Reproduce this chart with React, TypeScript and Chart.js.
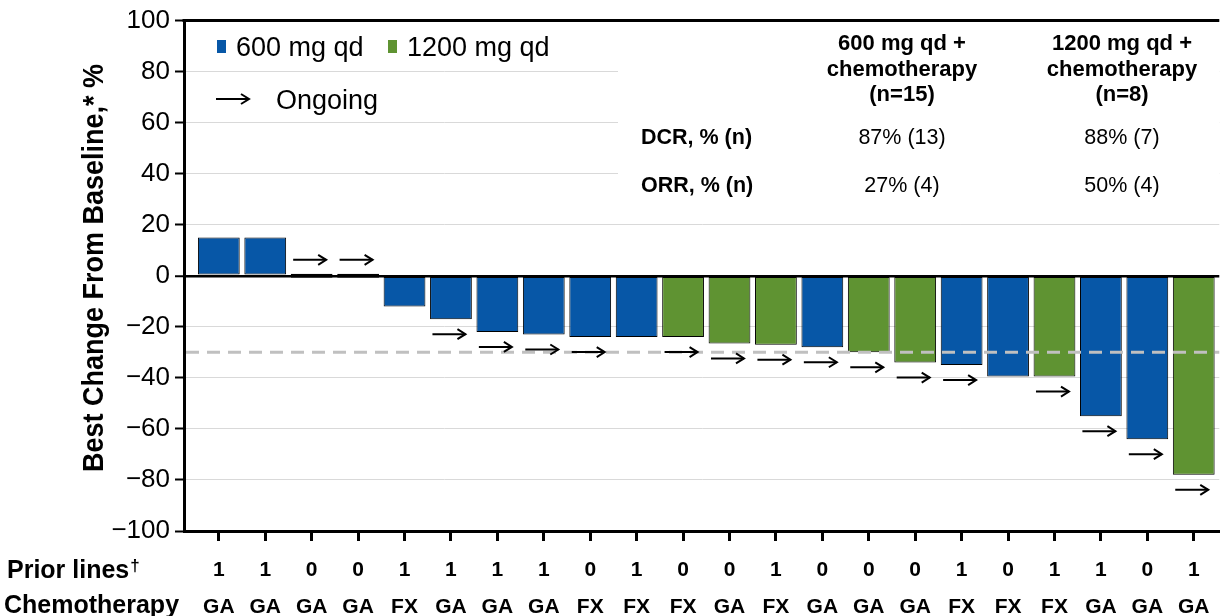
import React, { useEffect, useRef } from "react";
import { Chart, registerables } from "chart.js";

Chart.register(...registerables);

const values = [15, 15, 0, 0, -12, -17, -22, -23, -24, -24, -24, -26.5, -27, -28, -30, -34, -35, -39.5, -39.5, -55, -64, -78];
const doses = ["600", "600", "600", "600", "600", "600", "600", "600", "600", "600", "1200", "1200", "1200", "600", "1200", "1200", "600", "600", "1200", "600", "600", "1200"];
const ongoing = [0, 0, 1, 1, 0, 1, 1, 1, 1, 0, 1, 1, 1, 1, 1, 1, 1, 0, 1, 1, 1, 1];
const priorLines = ["1", "1", "0", "0", "1", "1", "1", "1", "0", "1", "0", "0", "1", "0", "0", "0", "1", "0", "1", "1", "0", "1"];
const chemo = ["GA", "GA", "GA", "GA", "FX", "GA", "GA", "GA", "FX", "FX", "FX", "GA", "FX", "GA", "GA", "GA", "FX", "FX", "FX", "GA", "GA", "GA"];
const yTicks = [100, 80, 60, 40, 20, 0, -20, -40, -60, -80, -100];
const threshold = -30;
const legendLabels = ["600 mg qd", "1200 mg qd"];
const ongoingLabel = "Ongoing";
const tableHeaders = [
  ["600 mg qd +", "chemotherapy", "(n=15)"],
  ["1200 mg qd +", "chemotherapy", "(n=8)"],
];
const tableRowLabels = ["DCR, % (n)", "ORR, % (n)"];
const tableValues = [
  ["87% (13)", "27% (4)"],
  ["88% (7)", "50% (4)"],
];
const yTitle = "Best Change From Baseline,* %";

const BLUE = "#0757A7";
const GREEN = "#5F9332";
const FONT = "'Liberation Sans', Arial, sans-serif";
const doseColor = (d: string) => (d === "600" ? BLUE : GREEN);

function drawArrow(ctx: CanvasRenderingContext2D, x1: number, x2: number, y: number) {
  ctx.save();
  ctx.strokeStyle = "#000";
  ctx.lineWidth = 2;
  ctx.lineCap = "butt";
  ctx.beginPath();
  ctx.moveTo(x1, y);
  ctx.lineTo(x2, y);
  ctx.stroke();
  ctx.beginPath();
  ctx.moveTo(x2 - 8, y - 5);
  ctx.lineTo(x2, y);
  ctx.lineTo(x2 - 8, y + 5);
  ctx.stroke();
  ctx.restore();
}

const overlayPlugin = {
  id: "overlay",
  beforeDatasetsDraw(chart: any) {
    const ctx = chart.ctx as CanvasRenderingContext2D;
    const { chartArea } = chart;
    const y = chart.scales.y;
    ctx.save();
    ctx.fillStyle = "#fff";
    const bottom = y.getPixelForValue(30);
    ctx.fillRect(618, chartArea.top + 1, chartArea.right - 618, bottom - chartArea.top);
    ctx.restore();
  },
  afterDatasetsDraw(chart: any) {
    const ctx = chart.ctx as CanvasRenderingContext2D;
    const { chartArea } = chart;
    const y = chart.scales.y;
    const ty = y.getPixelForValue(threshold);
    ctx.save();
    ctx.strokeStyle = "#c0c0c0";
    ctx.lineWidth = 3;
    ctx.setLineDash([13, 8]);
    ctx.beginPath();
    ctx.moveTo(chartArea.left + 2, ty);
    ctx.lineTo(chartArea.right, ty);
    ctx.stroke();
    ctx.restore();
    const meta = chart.getDatasetMeta(0);
    meta.data.forEach((el: any, i: number) => {
      if (!ongoing[i]) return;
      const top = Math.min(el.y, el.base);
      const bot = Math.max(el.y, el.base);
      const ay = values[i] >= 0 ? top - 14 : bot + 15;
      const cx = el.x - 2;
      drawArrow(ctx, cx - 16.5, cx + 16.5, ay);
    });
  },
  afterDraw(chart: any) {
    const ctx = chart.ctx as CanvasRenderingContext2D;
    const { chartArea } = chart;
    ctx.save();
    ctx.strokeStyle = "#000";
    ctx.lineWidth = 3;
    ctx.beginPath();
    ctx.moveTo(chartArea.left - 1.5, chartArea.top);
    ctx.lineTo(chartArea.right, chartArea.top);
    ctx.stroke();

    ctx.fillStyle = "#000";
    ctx.textBaseline = "alphabetic";
    // legend
    ctx.font = `27px ${FONT}`;
    ctx.textAlign = "left";
    ctx.fillStyle = BLUE;
    ctx.fillRect(217, 40, 9, 13);
    ctx.fillStyle = "#000";
    ctx.fillText(legendLabels[0], 236, 56);
    ctx.fillStyle = GREEN;
    ctx.fillRect(388, 40, 9, 13);
    ctx.fillStyle = "#000";
    ctx.fillText(legendLabels[1], 407, 56);
    drawArrow(ctx, 216, 249, 99);
    ctx.fillText(ongoingLabel, 276, 109);

    // table
    const colX = [902, 1122];
    const headBase = [50, 75.5, 101];
    ctx.textAlign = "center";
    ctx.font = `bold 22px ${FONT}`;
    tableHeaders.forEach((lines, c) => {
      lines.forEach((t, l) => ctx.fillText(t, colX[c], headBase[l]));
    });
    const rowBase = [144, 192];
    ctx.textAlign = "left";
    ctx.font = `bold 21.5px ${FONT}`;
    tableRowLabels.forEach((t, r) => ctx.fillText(t, 641, rowBase[r]));
    ctx.textAlign = "center";
    ctx.font = `21.5px ${FONT}`;
    tableValues.forEach((col, c) => {
      col.forEach((t, r) => ctx.fillText(t, colX[c], rowBase[r]));
    });

    // y title (slightly condensed, taller glyphs)
    ctx.save();
    ctx.font = `bold 30px ${FONT}`;
    ctx.textAlign = "center";
    ctx.translate(103, 268);
    ctx.rotate(-Math.PI / 2);
    ctx.scale(0.9, 1);
    ctx.fillText(yTitle, 0, 0);
    ctx.restore();

    // bottom row labels
    ctx.textAlign = "left";
    ctx.font = `bold 25px ${FONT}`;
    ctx.fillText("Prior lines", 7, 578);
    const w = ctx.measureText("Prior lines").width;
    ctx.font = `bold 17px ${FONT}`;
    ctx.fillText("\u2020", 7 + w + 1, 571);
    ctx.font = `bold 25px ${FONT}`;
    ctx.fillText("Chemotherapy", 4, 613);
    ctx.restore();
  },
};

export default function App() {
  const ref = useRef<HTMLCanvasElement | null>(null);
  useEffect(() => {
    document.body.style.margin = "0";
    const canvas = ref.current!;
    const chart = new Chart(canvas, {
      type: "bar",
      data: {
        datasets: [
          {
            data: values.map((v, i) => ({ x: i, y: v })),
            backgroundColor: doses.map(doseColor),
            borderColor: "#000",
            borderWidth: values.map((v) => (v === 0 ? 2 : 1)),
            borderSkipped: false,
            barPercentage: 0.9,
            categoryPercentage: 1,
            minBarLength: 4,
          },
        ],
      },
      options: {
        animation: false,
        responsive: false,
        devicePixelRatio: 1,
        layout: { padding: { top: 19, right: 0, left: 0, bottom: 0 } },
        plugins: { legend: { display: false }, tooltip: { enabled: false } },
        scales: {
          x: {
            type: "linear",
            offset: false,
            min: -0.75,
            max: 21.55,
            afterBuildTicks: (scale: any) => {
              scale.ticks = values.map((_, i) => ({ value: i }));
            },
            afterFit: (scale: any) => {
              scale.height = 85;
            },
            ticks: {
              autoSkip: false,
              maxRotation: 0,
              minRotation: 0,
              padding: 10.5,
              color: "#000",
              font: { family: FONT, size: 21, weight: "bold", lineHeight: 1.76 },
              callback: (v: any) => [priorLines[v], chemo[v]],
            },
            grid: {
              offset: false,
              drawOnChartArea: false,
              drawTicks: true,
              tickLength: 10,
              tickColor: "#000",
              tickWidth: 3,
            },
            border: { display: true, color: "#000", width: 3 },
          },
          y: {
            min: -100,
            max: 100,
            afterBuildTicks: (scale: any) => {
              scale.ticks = yTicks.map((v) => ({ value: v }));
            },
            afterFit: (scale: any) => {
              scale.width = 184;
            },
            ticks: {
              padding: 5,
              color: "#000",
              font: { family: FONT, size: 26 },
              callback: (v: any) => (v < 0 ? "\u2212" + Math.abs(v) : String(v)),
            },
            grid: {
              color: (c: any) => (c.tick && c.tick.value === 0 ? "#000" : "#d9d9d9"),
              lineWidth: (c: any) => (c.tick && c.tick.value === 0 ? 2.5 : 1),
              tickLength: 9,
              tickColor: "#000",
              tickWidth: 2,
            },
            border: { display: true, color: "#000", width: 3 },
          },
        },
      },
      plugins: [overlayPlugin],
    });
    return () => chart.destroy();
  }, []);
  return <canvas ref={ref} width={1220} height={616} style={{ display: "block" }} />;
}
